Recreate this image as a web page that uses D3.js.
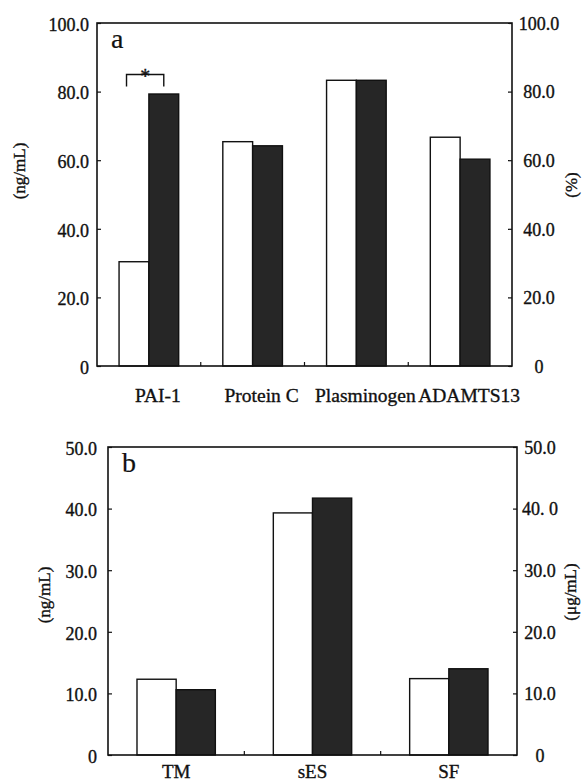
<!DOCTYPE html>
<html lang="en">
  <head>
    <meta charset="UTF-8" />
    <script src="https://d3js.org/d3.v7.min.js"></script>
    <title>Panels a and b</title>
    <style type="text/css">
      body { margin: 0; background: #fff; }
      svg { display: block; }
      text { font-family: 'Liberation Serif', 'DejaVu Serif', serif; fill: #111; stroke: #111; stroke-width: 0.35px; }
    </style>
  </head>
  <body>
    <svg width="582" height="783"></svg>
  </body>
  <script type="text/javascript">
    // data, panel a
    const categoriesA = ['PAI-1', 'Protein C', 'Plasminogen', 'ADAMTS13'];
    const openA = [30.4, 65.4, 83.3, 66.7];
    const filledA = [79.3, 64.2, 83.3, 60.3];
    const ticksA = [0, 20, 40, 60, 80, 100];
    const leftLabelsA = ['0', '20.0', '40.0', '60.0', '80.0', '100.0'];
    const rightLabelsA = ['0', '20.0', '40.0', '60.0', '80.0', '100.0'];

    // data, panel b
    const categoriesB = ['TM', 'sES', 'SF'];
    const openB = [12.3, 39.3, 12.4];
    const filledB = [10.6, 41.7, 14.0];
    const ticksB = [0, 10, 20, 30, 40, 50];
    const leftLabelsB = ['0', '10.0', '20.0', '30.0', '40.0', '50.0'];
    const rightLabelsB = ['0', '10.0', '20.0', '30.0', '40. 0', '50.0'];

    const series = ['open', 'filled'];

    const svg = d3.select('svg');

    function drawPanel(p) {
      const g = svg.append('g');
      const rows = p.categories.map((c, i) => ({ cat: c, open: p.open[i], filled: p.filled[i] }));

      const x = d3.scaleBand().domain(p.categories).range([p.left, p.right]).padding(0);
      const xs = d3.scaleBand().domain(series).range([0, x.bandwidth()]).paddingInner(0).paddingOuter(0.74);
      const y = d3.scaleLinear().domain([0, p.max]).range([p.bottom, p.top]);

      // bars
      const grp = g.selectAll('.grp').data(rows).join('g').attr('transform', (d) => `translate(${x(d.cat)},0)`);
      grp.selectAll('rect')
        .data((d) => series.map((s) => ({ s, v: d[s] })))
        .join('rect')
        .attr('x', (d) => xs(d.s))
        .attr('y', (d) => y(d.v))
        .attr('width', xs.bandwidth())
        .attr('height', (d) => y(0) - y(d.v))
        .attr('fill', (d) => (d.s === 'open' ? '#fff' : '#262626'))
        .attr('stroke', '#111')
        .attr('stroke-width', 1.4);

      // frame
      g.append('rect')
        .attr('x', p.left).attr('y', p.top)
        .attr('width', p.right - p.left).attr('height', p.bottom - p.top)
        .attr('fill', 'none').attr('stroke', '#111').attr('stroke-width', 1.6);

      // left axis
      const la = g.append('g').attr('transform', `translate(${p.left},0)`)
        .call(d3.axisLeft(y).tickValues(p.ticks).tickSizeInner(-4).tickSizeOuter(0).tickPadding(p.leftPad)
          .tickFormat((d, i) => p.leftLabels[i]));
      la.select('.domain').remove();
      la.selectAll('line').attr('stroke', '#111').attr('stroke-width', 1.2);
      la.selectAll('text').attr('font-size', '18px').attr('dy', '0.4em')
        .style('font-family', "'Liberation Serif', serif");

      // right axis
      const ra = g.append('g').attr('transform', `translate(${p.right},0)`)
        .call(d3.axisRight(y).tickValues(p.ticks).tickSizeInner(-4).tickSizeOuter(0).tickPadding(p.rightPad)
          .tickFormat((d, i) => p.rightLabels[i]));
      ra.select('.domain').remove();
      ra.selectAll('line').attr('stroke', '#111').attr('stroke-width', 1.2);
      ra.selectAll('text').attr('font-size', '18px').attr('dy', '0.35em').attr('text-anchor', 'middle')
        .style('font-family', "'Liberation Serif', serif");

      // x axis: category names, small inward ticks between categories
      const bx = d3.axisBottom(x).tickSizeInner(0).tickSizeOuter(0).tickPadding(p.catPad);
      const xa = g.append('g').attr('transform', `translate(0,${p.bottom})`).call(bx);
      xa.select('.domain').remove();
      xa.selectAll('line').remove();
      xa.selectAll('text').attr('font-size', p.catSize).attr('dx', p.catDx)
        .style('font-family', "'Liberation Serif', serif");
      g.selectAll('.sep')
        .data(p.categories.slice(1))
        .join('line')
        .attr('x1', (d) => x(d)).attr('x2', (d) => x(d))
        .attr('y1', p.bottom).attr('y2', p.bottom - 4)
        .attr('stroke', '#111').attr('stroke-width', 1.2);

      // axis titles
      g.append('text')
        .attr('transform', `translate(${p.leftTitleX},${p.leftTitleY}) rotate(-90)`)
        .attr('text-anchor', 'middle').attr('font-size', '17px').text(p.leftTitle);
      g.append('text')
        .attr('transform', `translate(${p.rightTitleX},${p.rightTitleY}) rotate(-90)`)
        .attr('text-anchor', 'middle').attr('font-size', '17px').text(p.rightTitle);

      // panel letter
      g.append('text').attr('x', p.left + 14).attr('y', p.top + 25)
        .attr('font-size', '28px').style('stroke-width', '0.2px').text(p.letter);

      return { g, x, xs, y };
    }

    const a = drawPanel({
      categories: categoriesA, open: openA, filled: filledA, ticks: ticksA, max: 100,
      leftLabels: leftLabelsA, rightLabels: rightLabelsA,
      left: 97, right: 512, top: 23, bottom: 366,
      leftPad: 8, rightPad: 27, catPad: 22, catSize: '19.5px', catDx: 9,
      leftTitle: '(ng/mL)', leftTitleX: 25, leftTitleY: 171,
      rightTitle: '(%)', rightTitleX: 577, rightTitleY: 185,
      letter: 'a'
    });

    const b = drawPanel({
      categories: categoriesB, open: openB, filled: filledB, ticks: ticksB, max: 50,
      leftLabels: leftLabelsB, rightLabels: rightLabelsB,
      left: 108, right: 517, top: 447, bottom: 755,
      leftPad: 11, rightPad: 23, catPad: 10, catSize: '19px', catDx: 0,
      leftTitle: '(ng/mL)', leftTitleX: 50, leftTitleY: 595,
      rightTitle: '(\u03bcg/mL)', rightTitleX: 576, rightTitleY: 592,
      letter: 'b'
    });

    // significance bracket over PAI-1
    const bx0 = a.x('PAI-1') + a.xs('open') + a.xs.bandwidth() * 0.25;
    const bx1 = a.x('PAI-1') + a.xs('filled') + a.xs.bandwidth() * 0.5;
    a.g.append('path')
      .attr('d', `M${bx0},${a.y(81.5)}V${a.y(85)}H${bx1}V${a.y(81.5)}`)
      .attr('fill', 'none').attr('stroke', '#111').attr('stroke-width', 1.4);
    a.g.append('text')
      .attr('x', (bx0 + bx1) / 2).attr('y', a.y(85) + 9)
      .attr('text-anchor', 'middle').attr('font-size', '20px').text('*');
  </script>
</html>
